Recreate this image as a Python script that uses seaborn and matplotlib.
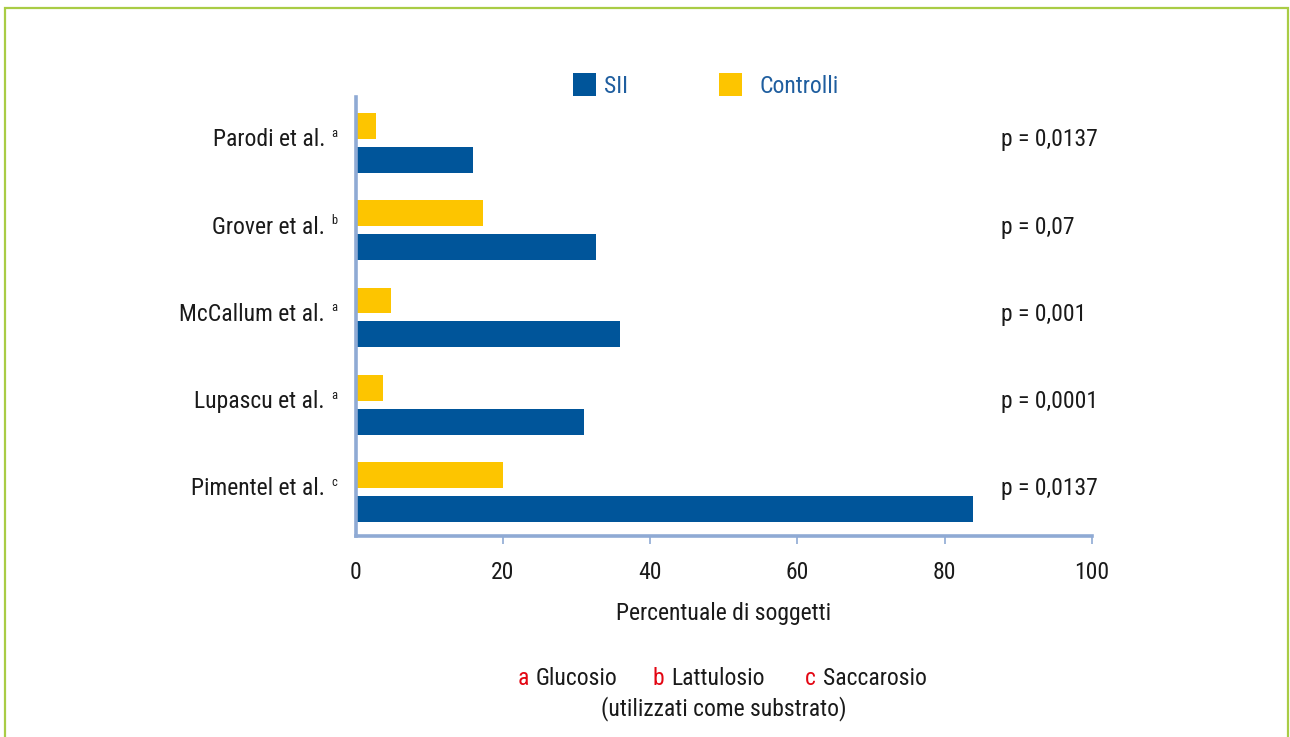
import numpy as np
import pandas as pd
import seaborn as sns
import matplotlib
matplotlib.use("Agg")
import matplotlib.pyplot as plt
from matplotlib import font_manager
from matplotlib.patches import Rectangle, Patch

# ---------------- data ----------------
studi = ["Parodi et al.", "Grover et al.", "McCallum et al.", "Lupascu et al.", "Pimentel et al."]
apici = ["a", "b", "a", "a", "c"]
sii = [16.0, 32.6, 35.9, 31.0, 83.9]
controlli = [2.8, 17.3, 4.8, 3.7, 20.0]
p_valori = ["p = 0,0137", "p = 0,07", "p = 0,001", "p = 0,0001", "p = 0,0137"]
gruppi = ["SII", "Controlli"]
x_ticks = [0, 20, 40, 60, 80, 100]
x_label = "Percentuale di soggetti"
note_lettere = ["a", "b", "c"]
note_substrati = ["Glucosio", "Lattulosio", "Saccarosio"]
note_riga2 = "(utilizzati come substrato)"

# ---------------- style ----------------
BLU = "#00559A"
GIALLO = "#FDC500"
SPINE = "#8FAAD4"
VERDE = "#A9CC45"
ROSSO = "#E30613"
TESTO = "#1a1a1a"
LEG_TXT = "#1F5E9F"

sns.set_style("white")
avail = {f.name for f in font_manager.fontManager.ttflist}
fam = "DejaVu Sans"
for cand in ["Liberation Sans Narrow", "Roboto Condensed", "Open Sans Condensed", "Liberation Sans"]:
    if cand in avail:
        fam = cand
        break
plt.rcParams["font.family"] = [fam, "DejaVu Sans"]

W, H = 1290, 737
FS = 17

df = pd.DataFrame({
    "Studio": studi * 2,
    "Gruppo": ["Controlli"] * len(studi) + ["SII"] * len(studi),
    "Valore": controlli + sii,
})

fig = plt.figure(figsize=(W / 100, H / 100), dpi=100)
x0, x100 = 355.5, 1092.0
ytop, ybot = 97.0, 535.5
ax = fig.add_axes([x0 / W, 1 - ybot / H, (x100 - x0) / W, (ybot - ytop) / H])

sns.barplot(data=df, y="Studio", x="Valore", hue="Gruppo",
            hue_order=["Controlli", "SII"], palette=[GIALLO, BLU],
            orient="h", width=0.778, gap=0.24, errorbar=None,
            legend=False, saturation=1, linewidth=0, ax=ax)

ax.set_xlim(0, 100)
ax.set_ylim(4.5, -0.527)
ax.set_xlabel("")
ax.set_ylabel("")
for s in ["top", "right"]:
    ax.spines[s].set_visible(False)
for s in ["left", "bottom"]:
    ax.spines[s].set_color(SPINE)
    ax.spines[s].set_linewidth(2.6)
ax.set_xticks(x_ticks)
ax.set_xticklabels([str(t) for t in x_ticks])
ax.tick_params(axis="x", length=5.4, width=1.2, color=SPINE, pad=12.7,
               labelsize=FS, labelcolor=TESTO, direction="out", bottom=True)
ax.xaxis.get_major_ticks()[0].tick1line.set_visible(False)
ax.tick_params(axis="y", left=False, labelleft=False)

for i, (s, a, p) in enumerate(zip(studi, apici, p_valori)):
    ax.annotate(s, xy=(0, i), xytext=(-30.5, -3.5), textcoords="offset pixels",
                ha="right", va="baseline", fontsize=FS, color=TESTO, annotation_clip=False)
    ax.annotate(a, xy=(0, i), xytext=(-24.5, 6), textcoords="offset pixels",
                ha="left", va="baseline", fontsize=9, color=TESTO, annotation_clip=False)
    ax.annotate(p, xy=(87.65, i), xytext=(0, -3.5), textcoords="offset pixels",
                ha="left", va="baseline", fontsize=FS, color=TESTO, annotation_clip=False)

# legend
leg1 = fig.legend(handles=[Patch(facecolor=BLU, edgecolor="none")], labels=[gruppi[0]],
                  loc="center left", bbox_to_anchor=(573 / W, 1 - 85.5 / H),
                  frameon=False, borderpad=0, borderaxespad=0,
                  handlelength=0.974, handleheight=1.12, handletextpad=8 / 23.6,
                  fontsize=FS, labelcolor=LEG_TXT)
leg2 = fig.legend(handles=[Patch(facecolor=GIALLO, edgecolor="none")], labels=[gruppi[1]],
                  loc="center left", bbox_to_anchor=(719 / W, 1 - 85.5 / H),
                  frameon=False, borderpad=0, borderaxespad=0,
                  handlelength=0.974, handleheight=1.12, handletextpad=17 / 23.6,
                  fontsize=FS, labelcolor=LEG_TXT)

# x label
fig.text((x0 + x100) / 2 / W, 1 - 620 / H, x_label, ha="center", va="baseline",
         fontsize=FS, color=TESTO)

# footnote
lett_x = [518, 652, 805]
subs_x = [536, 671, 823]
for l, lx, sname, sx in zip(note_lettere, lett_x, note_substrati, subs_x):
    fig.text(lx / W, 1 - 685 / H, l, ha="left", va="baseline", fontsize=FS, color=ROSSO)
    fig.text(sx / W, 1 - 685 / H, sname, ha="left", va="baseline", fontsize=FS, color=TESTO)
fig.text(724 / W, 1 - 715 / H, note_riga2, ha="center", va="baseline", fontsize=FS, color=TESTO)

# green frame
fig.patches.append(Rectangle((5 / W, -0.05), (1288 - 5) / W, (H - 8) / H + 0.05,
                             transform=fig.transFigure, fill=False,
                             edgecolor=VERDE, linewidth=1.6))

fig.savefig("out.png", dpi=100)
